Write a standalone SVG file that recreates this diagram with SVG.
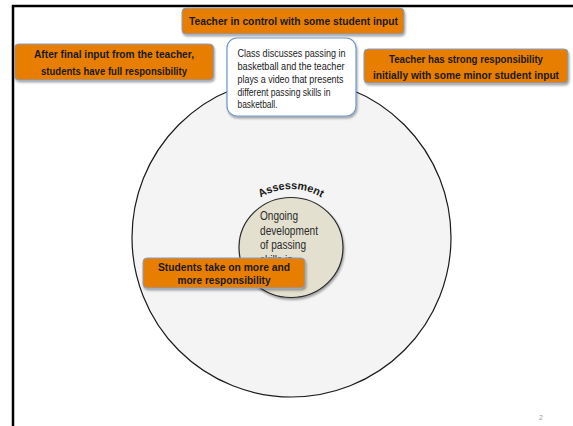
<svg xmlns="http://www.w3.org/2000/svg" width="573" height="426" viewBox="0 0 573 426">
<defs>
<filter id="sh" x="-10%" y="-20%" width="120%" height="150%">
<feDropShadow dx="1" dy="2" stdDeviation="1.2" flood-color="#000" flood-opacity="0.35"/>
</filter>
<path id="arc" d="M233,247 A58,58 0 0 1 349,247"/>
</defs>
<style>
.ob{fill:#e87e04;stroke:#7f9fcf;stroke-width:1;filter:url(#sh)}
.bt{font-family:"Liberation Sans",Arial,sans-serif;font-weight:bold;font-size:11px;fill:#1a1a1a;text-anchor:middle}
.wt{font-family:"Liberation Sans",Arial,sans-serif;font-size:10px;fill:#222}
.it{font-family:"Liberation Sans",Arial,sans-serif;font-size:12px;fill:#2a2a2a}
</style>
<rect x="0" y="0" width="573" height="426" fill="#fff"/>
<path d="M13,426 V6 H573" fill="none" stroke="#000" stroke-width="2.5"/>

<g id="outer-circle">
<circle cx="291.5" cy="237.5" r="159.5" fill="#f4f4f4" stroke="#1a1a1a" stroke-width="1.2"/>
</g>

<g id="inner-circle">
<ellipse cx="291" cy="247.5" rx="52" ry="50" fill="#e3e0cf" stroke="#2a2a2a" stroke-width="1.2" filter="url(#sh)"/>
<text class="bt" font-size="11"><textPath href="#arc" startOffset="50%" textLength="64" lengthAdjust="spacingAndGlyphs">Assessment</textPath></text>
<text class="it" x="260" y="220" textLength="38" lengthAdjust="spacingAndGlyphs">Ongoing</text>
<text class="it" x="260" y="234.5" textLength="58" lengthAdjust="spacingAndGlyphs">development</text>
<text class="it" x="260" y="249" textLength="46" lengthAdjust="spacingAndGlyphs">of passing</text>
<text class="it" x="260" y="263.5" textLength="33" lengthAdjust="spacingAndGlyphs">skills in</text>
</g>

<g id="top-box">
<rect class="ob" x="182" y="8" width="222" height="26" rx="4"/>
<text class="bt" x="293.5" y="25" textLength="209" lengthAdjust="spacingAndGlyphs">Teacher in control with some student input</text>
</g>

<g id="left-box">
<rect class="ob" x="14.5" y="44" width="199" height="36" rx="4"/>
<text class="bt" x="114" y="58" textLength="160" lengthAdjust="spacingAndGlyphs">After final input from the teacher,</text>
<text class="bt" x="114" y="75" textLength="146" lengthAdjust="spacingAndGlyphs">students have full responsibility</text>
</g>

<g id="right-box">
<rect class="ob" x="364" y="49" width="204" height="34" rx="4"/>
<text class="bt" x="466" y="63" textLength="154" lengthAdjust="spacingAndGlyphs">Teacher has strong responsibility</text>
<text class="bt" x="466" y="79" textLength="186" lengthAdjust="spacingAndGlyphs">initially with some minor student input</text>
</g>

<g id="center-box">
<rect x="227" y="38" width="129" height="78" rx="10" fill="#fff" stroke="#6f97cc" stroke-width="1.2" filter="url(#sh)"/>
<text class="wt" x="237.5" y="57" textLength="108" lengthAdjust="spacingAndGlyphs">Class discusses passing in</text>
<text class="wt" x="237.5" y="70" textLength="107" lengthAdjust="spacingAndGlyphs">basketball and the teacher</text>
<text class="wt" x="237.5" y="83" textLength="106" lengthAdjust="spacingAndGlyphs">plays a video that presents</text>
<text class="wt" x="237.5" y="95.5" textLength="93" lengthAdjust="spacingAndGlyphs">different passing skills in</text>
<text class="wt" x="237.5" y="107.5" textLength="40" lengthAdjust="spacingAndGlyphs">basketball.</text>
</g>

<g id="bottom-box">
<rect class="ob" x="143" y="258" width="162" height="30" rx="4"/>
<text class="bt" x="224" y="270.5" textLength="132" lengthAdjust="spacingAndGlyphs">Students take on more and</text>
<text class="bt" x="224" y="284" textLength="93" lengthAdjust="spacingAndGlyphs">more responsibility</text>
</g>

<g id="connectors"></g>

<text x="539" y="420" font-family="Liberation Sans,Arial,sans-serif" font-size="7" fill="#999">2</text>
</svg>
